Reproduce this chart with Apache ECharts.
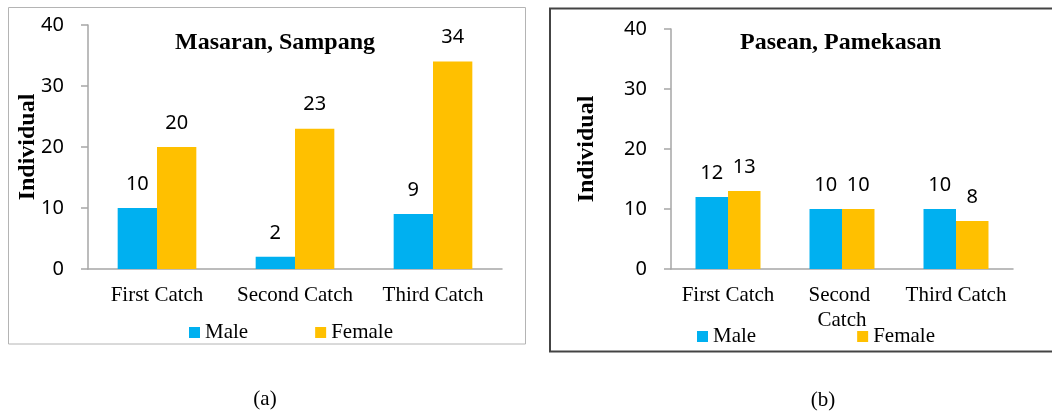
<!DOCTYPE html>
<html>
<head>
<meta charset="utf-8">
<script src="https://cdn.jsdelivr.net/npm/echarts@6/dist/echarts.min.js"></script>
<style>
html,body{margin:0;padding:0;background:#fff;}
#chart{width:1052px;height:411px;}
</style>
</head>
<body>
<div id="chart"></div>
<script>
const categories = ['First Catch', 'Second Catch', 'Third Catch'];
const seriesNames = ['Male', 'Female'];
const maleMasaran = [10, 2, 9];
const femaleMasaran = [20, 23, 34];
const malePasean = [12, 10, 10];
const femalePasean = [13, 10, 8];
const titles = ['Masaran, Sampang', 'Pasean, Pamekasan'];
const captions = ['(a)', '(b)'];
const yName = 'Individual';

const MALE = '#00B0F0', FEMALE = '#FFC000';
const serif = '"Liberation Serif", "Times New Roman", serif';
const sans = '"Noto Sans", sans-serif';
const axisGray = '#a6a6a6';

const chart = echarts.init(document.getElementById('chart'));

function xAxis(gridIndex, labelWidth) {
  return {
    type: 'category', gridIndex, data: categories,
    axisLine: {lineStyle: {color: axisGray, width: 1.5}},
    axisTick: {show: false},
    axisLabel: {color: '#000', fontFamily: serif, fontSize: 21, margin: 14, lineHeight: 25,
      interval: 0, width: labelWidth, overflow: 'break'}
  };
}
function yAxis(gridIndex, nameGap) {
  return {
    type: 'value', gridIndex, min: 0, max: 40, interval: 10,
    name: yName, nameLocation: 'middle', nameGap, nameMoveOverlap: false,
    nameTextStyle: {fontFamily: serif, fontWeight: 'bold', fontSize: 24, color: '#000'},
    axisLine: {show: true, lineStyle: {color: axisGray, width: 1.5}},
    axisTick: {show: true, length: 7, lineStyle: {color: axisGray, width: 1.5}},
    splitLine: {show: false},
    axisLabel: {color: '#000', fontFamily: sans, fontSize: 20, margin: 24}
  };
}
function bar(name, data, color, idx) {
  return {
    type: 'bar', name, data, xAxisIndex: idx, yAxisIndex: idx,
    barGap: '0%', barCategoryGap: '43%',
    itemStyle: {color},
    label: {show: true, position: 'top', distance: 14, color: '#000', fontFamily: sans, fontSize: 20}
  };
}

chart.setOption({
  animation: false,
  title: [
    {text: titles[0], left: 175, top: 31, padding: 0,
     textStyle: {fontFamily: serif, fontWeight: 'bold', fontSize: 24, color: '#000'}},
    {text: titles[1], left: 740, top: 31, padding: 0,
     textStyle: {fontFamily: serif, fontWeight: 'bold', fontSize: 24, color: '#000'}}
  ],
  legend: [
    {data: seriesNames, left: 189, top: 322, padding: 0, itemWidth: 11, itemHeight: 11, itemGap: 67,
     icon: 'rect', textStyle: {fontFamily: serif, fontSize: 21, color: '#000'}},
    {data: seriesNames, left: 697, top: 326, padding: 0, itemWidth: 11, itemHeight: 11, itemGap: 101,
     icon: 'rect', textStyle: {fontFamily: serif, fontSize: 21, color: '#000'}}
  ],
  grid: [
    {left: 88, width: 414, top: 25, height: 244},
    {left: 671, width: 342, top: 29, height: 240}
  ],
  xAxis: [xAxis(0, 136), xAxis(1, 108)],
  yAxis: [yAxis(0, 48), yAxis(1, 72)],
  series: [
    bar(seriesNames[0], maleMasaran, MALE, 0),
    bar(seriesNames[1], femaleMasaran, FEMALE, 0),
    bar(seriesNames[0], malePasean, MALE, 1),
    bar(seriesNames[1], femalePasean, FEMALE, 1)
  ],
  graphic: [
    {type: 'rect', shape: {x: 8.5, y: 7.5, width: 517, height: 336.5}, silent: true,
     style: {fill: 'none', stroke: '#b4b4b4', lineWidth: 1}},
    {type: 'rect', shape: {x: 550, y: 8.5, width: 520, height: 343}, silent: true,
     style: {fill: 'none', stroke: '#444', lineWidth: 2}},
    {type: 'text', x: 265, y: 399, silent: true,
     style: {text: captions[0], fontFamily: serif, fontSize: 21, fill: '#000', align: 'center', verticalAlign: 'middle'}},
    {type: 'text', x: 823, y: 400, silent: true,
     style: {text: captions[1], fontFamily: serif, fontSize: 21, fill: '#000', align: 'center', verticalAlign: 'middle'}}
  ]
});
</script>
</body>
</html>
